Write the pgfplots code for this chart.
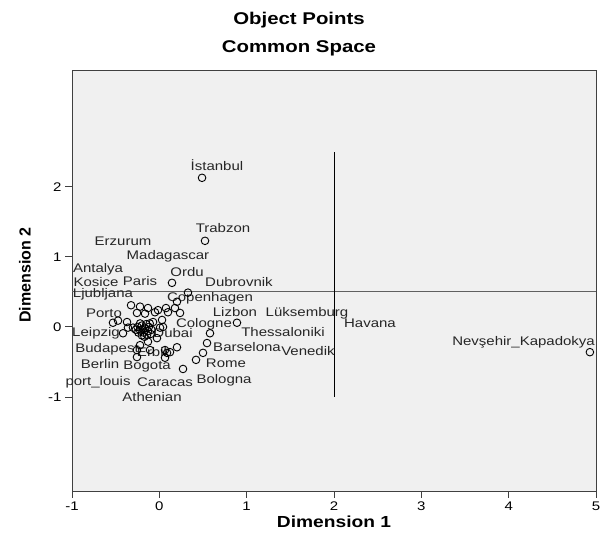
\documentclass[border=0pt]{standalone}
\usepackage{pgfplots}
\pgfplotsset{compat=1.18}
\usepackage{pgfplotstable}
\usepackage{fontspec}
\setmainfont{Liberation Sans}[FakeStretch=1.2]
\newfontfamily\plainsans{Liberation Sans}
\definecolor{plotbg}{HTML}{F0F0F0}
\definecolor{refgray}{HTML}{606060}
\definecolor{axisgray}{HTML}{404040}
\newcommand\lblfont{\fontsize{12.5bp}{14bp}\selectfont}
\newcommand\lab[3]{\node[font=\lblfont, text=black!85, inner sep=0pt] at (axis cs:#1,#2) {#3};}

% object points (dimension 1, dimension 2)
\pgfplotstableread{
x y
0.489 2.13
0.523 1.23
0.145 0.63
0.328 0.49
0.889 0.06
4.930 -0.36
0.580 -0.09
0.546 -0.23
0.500 -0.37
0.420 -0.47
0.271 -0.60
0.202 -0.29
0.088 -0.37
0.065 -0.44
0.179 0.27
0.099 0.21
0.237 0.20
0.202 0.36
0.076 0.27
-0.221 0.29
-0.130 0.27
-0.015 0.24
-0.256 0.20
-0.164 0.19
-0.050 0.21
-0.473 0.09
-0.370 0.07
-0.359 -0.01
-0.302 -0.01
-0.072 0.07
0.031 0.10
0.008 -0.01
0.042 0.00
-0.027 -0.16
-0.130 -0.21
-0.221 -0.26
-0.256 -0.33
-0.256 -0.43
-0.107 -0.33
0.065 -0.33
0.122 -0.36
-0.531 0.06
-0.416 -0.09
-0.324 0.31
-0.25 0.00
-0.22 -0.05
-0.20 0.02
-0.18 -0.08
-0.16 -0.02
-0.15 0.04
-0.13 -0.06
-0.12 0.00
-0.10 -0.10
-0.20 -0.12
-0.24 -0.08
-0.17 -0.14
-0.14 -0.11
-0.22 0.05
-0.09 -0.04
-0.19 -0.03
-0.27 -0.04
-0.11 0.05
}\points

\begin{document}
\begin{tikzpicture}[x=1bp,y=1bp]
\begin{axis}[
  at={(0,0)}, anchor=south west,
  scale only axis, width=524bp, height=421bp,
  xmin=-1, xmax=5, ymin=-2.343, ymax=3.67,
  xtick={-1,0,1,2,3,4,5}, ytick={-1,0,1,2},
  axis background/.style={fill=plotbg},
  axis line style={draw=axisgray, line width=0.9bp},
  tick align=outside, major tick length=7bp,
  tick style={draw=axisgray, line width=0.9bp},
  xtick pos=bottom, ytick pos=left,
  ticklabel style={font=\fontsize{12.5bp}{14bp}\selectfont},
  /pgf/number format/assume math mode=true,
  clip=false,
]
\addplot[refgray, line width=1bp] coordinates {(-1,0.5) (5,0.5)};
\addplot[black, line width=1bp] coordinates {(2,-1) (2,2.5)};
\addplot[only marks, mark=o, mark size=3.8bp, mark options={line width=0.9bp}, black] table {\points};

\lab{0.660}{2.314}{İstanbul}
\lab{0.729}{1.414}{Trabzon}
\lab{-0.416}{1.229}{Erzurum}
\lab{0.099}{1.014}{Madagascar}
\lab{-0.702}{0.829}{Antalya}
\lab{0.317}{0.786}{Ordu}
\lab{-0.221}{0.657}{Paris}
\lab{-0.725}{0.640}{Kosice}
\lab{0.912}{0.643}{Dubrovnik}
\lab{-0.645}{0.460}{Ljubljana}
\lab{0.580}{0.414}{Copenhagen}
\lab{-0.634}{0.200}{Porto}
\lab{0.866}{0.220}{Lizbon}
\lab{1.691}{0.200}{Lüksemburg}
\lab{0.511}{0.040}{Cologne}
\lab{1.416}{-0.071}{Thessaloniki}
\lab{2.412}{0.057}{Havana}
\lab{-0.725}{-0.086}{Leipzig}
\lab{0.157}{-0.086}{Dubai}
\lab{1.004}{-0.286}{Barselona}
\lab{1.702}{-0.343}{Venedik}
\lab{-0.599}{-0.314}{Budapest}
\lab{-0.084}{-0.357}{Erbil}
\lab{0.763}{-0.514}{Rome}
\lab{-0.679}{-0.529}{Berlin}
\lab{-0.141}{-0.571}{Bogota}
\lab{0.741}{-0.757}{Bologna}
\lab{-0.702}{-0.786}{port\_louis}
\lab{0.065}{-0.786}{Caracas}
\lab{-0.084}{-1.000}{Athenian}
\node[font=\lblfont, text=black!85, inner sep=0pt, anchor=east] at (axis cs:4.989,-0.214) {Nevşehir\_Kapadokya};
\end{axis}
\node[font=\bfseries\fontsize{17bp}{20bp}\selectfont] at (227,471) {Object Points};
\node[font=\bfseries\fontsize{17bp}{20bp}\selectfont] at (227,443) {Common Space};
\node[font=\bfseries\fontsize{16bp}{20bp}\selectfont] at (262,-31) {Dimension 1};
\node[font=\plainsans\bfseries\fontsize{16bp}{20bp}\selectfont, rotate=90] at (-47,216) {Dimension 2};
\pgfresetboundingbox
\path[use as bounding box] (-72,-44) rectangle (528,491);
\end{tikzpicture}
\end{document}
